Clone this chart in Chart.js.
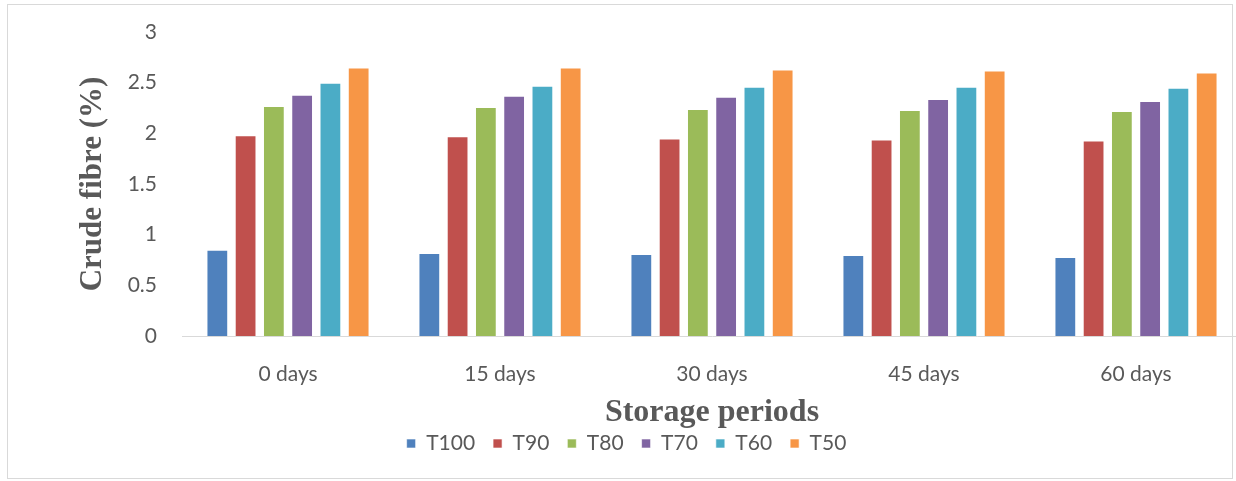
<!DOCTYPE html>
<html>
<head>
<meta charset="utf-8">
<script src="https://cdn.jsdelivr.net/npm/chart.js@4.4.1/dist/chart.umd.min.js"></script>
<style>
  html, body { margin: 0; padding: 0; background: #fff; overflow: hidden; }
  #wrap { position: relative; width: 1236px; height: 481px; overflow: hidden; }
  #frame {
    position: absolute; left: 7px; top: 4px; width: 1224px; height: 473px;
    border: 1px solid #d9d9d9; pointer-events: none;
  }
  canvas { position: absolute; left: 0; top: 0; }
</style>
</head>
<body>
<div id="wrap">
  <!-- canvas is a little wider than the frame so the plot runs past its right edge -->
  <canvas id="fibreChart" width="1242" height="481"></canvas>
  <div id="frame"></div>
</div>
<script>
const periods = ["0 days", "15 days", "30 days", "45 days", "60 days"];

const t100 = [0.85, 0.82, 0.81, 0.80, 0.78];
const t90 = [1.98, 1.97, 1.95, 1.94, 1.93];
const t80 = [2.27, 2.26, 2.24, 2.23, 2.22];
const t70 = [2.38, 2.37, 2.36, 2.34, 2.32];
const t60 = [2.50, 2.47, 2.46, 2.46, 2.45];
const t50 = [2.65, 2.65, 2.63, 2.62, 2.60];

const seriesNames = ["T100", "T90", "T80", "T70", "T60", "T50"];
const seriesColors = ["#4f81bd", "#c0504d", "#9bbb59", "#8064a2", "#4bacc6", "#f79646"];

const textGrey = "#595959";
const labelFont = "Lato, Calibri, 'Liberation Sans', sans-serif";
const titleFont = "'Liberation Serif', 'Times New Roman', serif";

const ctx = document.getElementById("fibreChart").getContext("2d");

const datasets = [t100, t90, t80, t70, t60, t50].map((values, i) => ({
  label: seriesNames[i],
  data: values,
  backgroundColor: seriesColors[i],
  borderColor: "rgba(255, 255, 255, 0.6)",
  borderWidth: 1,
  borderSkipped: "bottom",
  barPercentage: 0.77,
  categoryPercentage: 0.8
}));

new Chart(ctx, {
  type: "bar",
  data: { labels: periods, datasets },
  options: {
    responsive: false,
    animation: false,
    layout: { padding: { top: 32, right: 0, bottom: 17, left: 11 } },
    plugins: {
      tooltip: { enabled: false },
      legend: {
        position: "bottom",
        labels: {
          color: textGrey,
          font: { family: labelFont, size: 21 },
          boxWidth: 9,
          boxHeight: 9,
          padding: 18
        }
      }
    },
    scales: {
      x: {
        grid: { display: false },
        border: { display: true, color: "#d9d9d9", width: 1 },
        ticks: {
          color: textGrey,
          font: { family: labelFont, size: 21 },
          padding: 18
        },
        title: {
          display: true,
          text: "Storage periods",
          color: textGrey,
          font: { family: titleFont, size: 32, weight: "bold" },
          padding: { top: 0, bottom: -17 }
        },
        afterFit(scale) {
          scale.height = 79;
        }
      },
      y: {
        min: 0,
        max: 3,
        grid: { display: false },
        border: { display: false },
        ticks: {
          stepSize: 0.5,
          color: textGrey,
          font: { family: labelFont, size: 21 },
          padding: 17,
          callback: (value) => String(value)
        },
        title: {
          display: true,
          text: "Crude fibre (%)",
          color: textGrey,
          font: { family: titleFont, size: 31, weight: "bold" },
          padding: { top: 63, bottom: 0 }
        },
        afterFit(scale) {
          scale.width = 171;
        }
      }
    }
  }
});
</script>
</body>
</html>
